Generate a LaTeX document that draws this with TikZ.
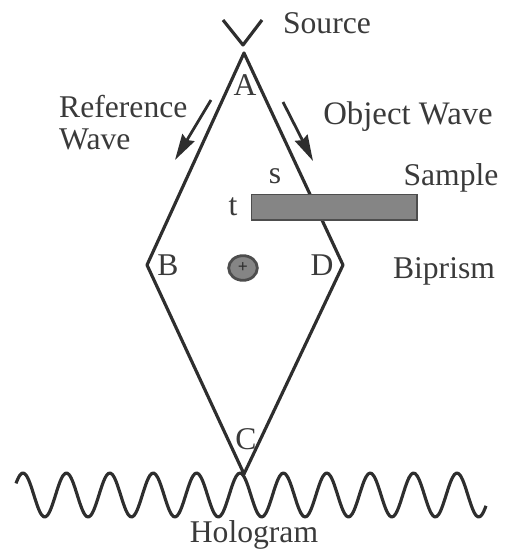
\documentclass[tikz,border=0pt]{standalone}
\usepackage{fontspec}
\setmainfont{Liberation Serif}
\usetikzlibrary{arrows.meta,shapes.geometric}
\definecolor{inkdark}{HTML}{2E2E2E}
\definecolor{labeltext}{HTML}{3A3A3A}
\definecolor{samplegray}{HTML}{858585}

\begin{document}
\begin{tikzpicture}[
    x=0.03cm, y=-0.03cm,
    every node/.style={font=\fontsize{27}{30}\selectfont, text=labeltext, inner sep=0pt},
    beam/.style={draw=inkdark, line width=2.7pt, line join=round},
    wavearrow/.style={draw=inkdark, line width=2.4pt, -{Stealth[length=0.78cm, width=0.42cm, inset=0.08cm]}},
    samplebox/.style={rectangle, draw=inkdark!85, line width=1.7pt, fill=samplegray,
        minimum width=4.95cm, minimum height=0.75cm},
    prism/.style={ellipse, draw=inkdark!85, line width=2.4pt, fill=samplegray,
        minimum width=0.86cm, minimum height=0.74cm},
]
\useasboundingbox (0,0) rectangle (505,554);

% Source
\coordinate (srcleft) at (223,20);
\coordinate (srctip) at (243,45);
\coordinate (srcright) at (262,20);
\draw[beam] (srcleft) -- (srctip) -- (srcright);
\node (source) at (327,23) {Source};

% Beam paths
\coordinate (ptA) at (244,53);
\coordinate (ptB) at (147,265);
\coordinate (ptC) at (244,474);
\coordinate (ptD) at (343,265);
\draw[beam] (ptA) -- (ptB) -- (ptC) -- (ptD) -- cycle;

% Wave arrows
\coordinate (refstart) at (211,100);
\coordinate (refend) at (175,160);
\coordinate (objstart) at (283,102);
\coordinate (objend) at (313,161);
\draw[wavearrow] (refstart) -- (refend);
\draw[wavearrow] (objstart) -- (objend);

% Sample and biprism
\node[samplebox] (sample) at (334,207) {};
\node[prism] (biprism) at (243,268) {};
\node[font=\bfseries\fontsize{15}{16}\selectfont, text=inkdark] (plus) at (243,268) {+};

% Hologram fringes
\draw[beam, smooth] plot[domain=16:486, samples=240] (\x, {495-22*cos(8.295*(\x-240))});

% Labels
\node (lblA) at (245,85) {A};
\node (lblB) at (168,265) {B};
\node (lblC) at (246,439) {C};
\node (lblD) at (322,265) {D};
\node (lbls) at (275,176) {s};
\node (lblt) at (233,207) {t};
\node[align=left, anchor=north west] (reflabel) at (59,95) {Reference\\[-3pt]Wave};
\node[font=\fontsize{28}{30}\selectfont] (objlabel) at (408,117) {Object Wave};
\node (samplelabel) at (451,178) {Sample};
\node (biprismlabel) at (444,271) {Biprism};
\node (hologram) at (254,535) {Hologram};
\end{tikzpicture}
\end{document}
